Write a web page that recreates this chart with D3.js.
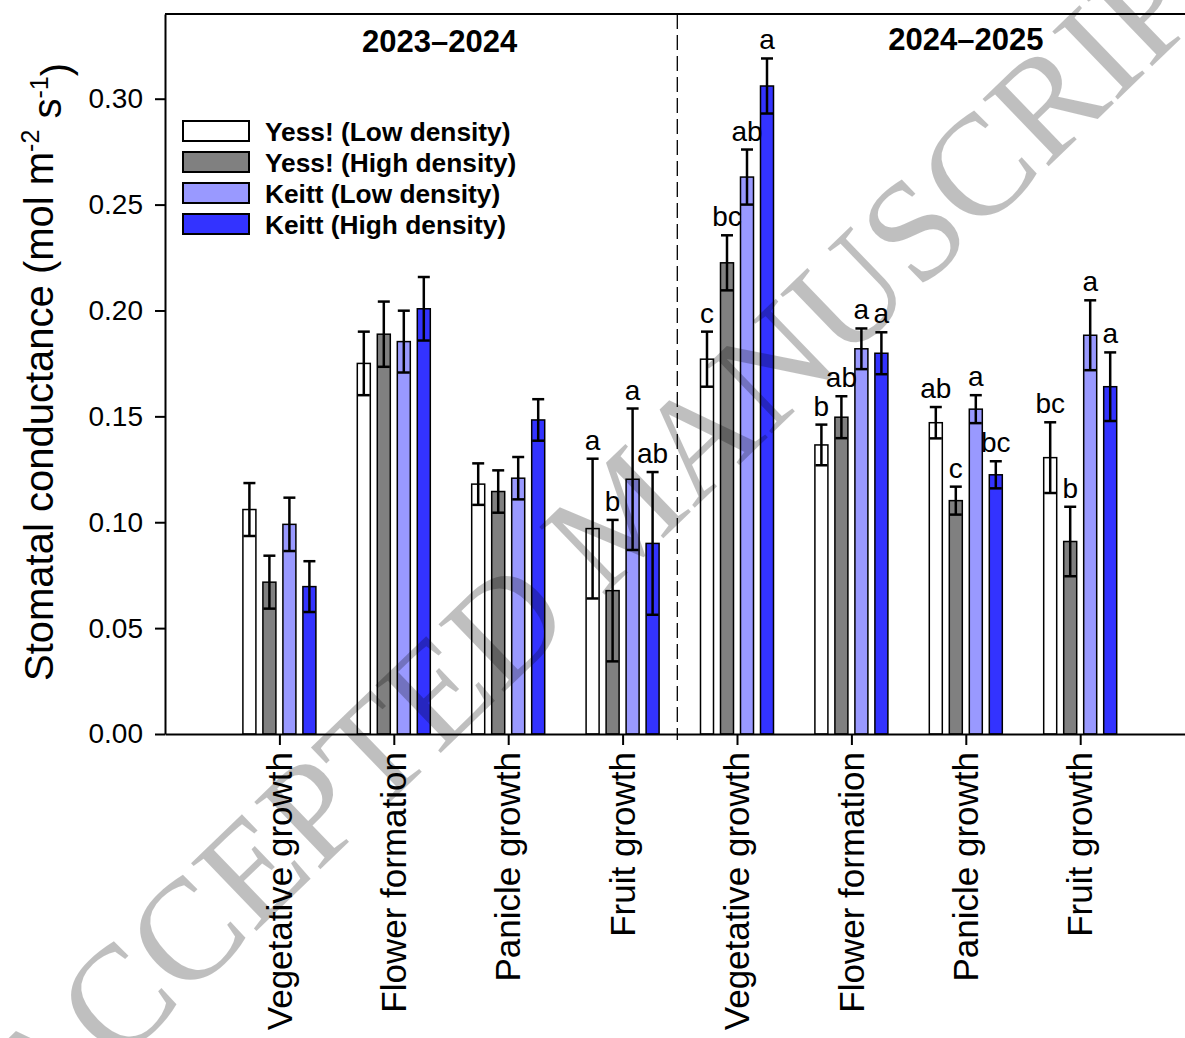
<!DOCTYPE html>
<html lang="en">
<head>
<meta charset="UTF-8">
<title>Stomatal conductance</title>
<script src="https://d3js.org/d3.v7.min.js"></script>
<style>
  body { margin: 0; background: #fff; }
  text { font-family: Arial, "Liberation Sans", sans-serif; fill: #000; }
  .tick text { font-size: 28px; }
  .xaxis .tick text { font-size: 35px; }
  .season { font-size: 31px; font-weight: 700; }
  .legend text { font-size: 26.3px; font-weight: 700; }
  .sig { font-size: 28px; }
</style>
</head>
<body>
<script>
// categories (two seasons x four stages)
const stages = ["Vegetative growth", "Flower formation", "Panicle growth", "Fruit growth",
                "Vegetative growth", "Flower formation", "Panicle growth", "Fruit growth"];
const seasons = ["2023\u20132024", "2024\u20132025"];
const seriesNames = ["Yess! (Low density)", "Yess! (High density)", "Keitt (Low density)", "Keitt (High density)"];
const seriesColors = ["#ffffff", "#808080", "#9999ff", "#3333ff"];

// means and standard errors
const yessLow     = [0.106, 0.175, 0.118, 0.097, 0.177, 0.1365, 0.147, 0.1305];
const yessLowErr  = [0.0125, 0.015, 0.0098, 0.033, 0.013, 0.0096, 0.0074, 0.0167];
const yessHigh    = [0.0717, 0.1888, 0.1145, 0.0677, 0.2225, 0.1496, 0.1102, 0.0909];
const yessHighErr = [0.0125, 0.0154, 0.010, 0.0334, 0.013, 0.0099, 0.0066, 0.0164];
const keittLow    = [0.099, 0.1853, 0.1208, 0.1203, 0.263, 0.1819, 0.1534, 0.1883];
const keittLowErr = [0.0126, 0.0146, 0.010, 0.0334, 0.013, 0.0096, 0.0066, 0.0165];
const keittHigh   = [0.0696, 0.2008, 0.1483, 0.090, 0.306, 0.1798, 0.1224, 0.164];
const keittHighErr= [0.012, 0.015, 0.0098, 0.0337, 0.013, 0.0099, 0.0064, 0.0162];

// significance letters (empty = none)
const yessLowSig   = ["", "", "", "a", "c", "b", "ab", "bc"];
const yessHighSig  = ["", "", "", "b", "bc", "ab", "c", "b"];
const keittLowSig  = ["", "", "", "a", "ab", "a", "a", "a"];
const keittHighSig = ["", "", "", "ab", "a", "a", "bc", "a"];

const yTicks = [0, 0.05, 0.10, 0.15, 0.20, 0.25, 0.30];

const means = [yessLow, yessHigh, keittLow, keittHigh];
const errs = [yessLowErr, yessHighErr, keittLowErr, keittHighErr];
const sigs = [yessLowSig, yessHighSig, keittLowSig, keittHighSig];

const width = 1185, height = 1038;
const plotLeft = 165, plotTop = 14, plotBottom = 734, step = 114.4;

const svg = d3.select("body").append("svg")
    .attr("width", width).attr("height", height);

const x = d3.scalePoint()
    .domain(d3.range(stages.length))
    .range([plotLeft, plotLeft + (stages.length + 1) * step])
    .padding(1);

const x1 = d3.scaleBand()
    .domain(d3.range(seriesNames.length))
    .range([-40, 40])
    .paddingInner(0.35)
    .paddingOuter(0.175);

const y = d3.scaleLinear().domain([0, 0.34]).range([plotBottom, plotTop]);

// flatten bars
const bars = [];
stages.forEach((s, i) => {
    seriesNames.forEach((n, k) => {
        bars.push({ i: i, k: k, v: means[k][i], e: errs[k][i], sig: sigs[k][i] });
    });
});

// frame lines (top + right, right one falls just outside the picture)
svg.append("line")
    .attr("x1", plotLeft).attr("x2", x.range()[1])
    .attr("y1", plotTop).attr("y2", plotTop)
    .attr("stroke", "#000").attr("stroke-width", 2);
svg.append("line")
    .attr("x1", x.range()[1]).attr("x2", x.range()[1])
    .attr("y1", plotTop).attr("y2", plotBottom)
    .attr("stroke", "#000").attr("stroke-width", 2);

// season separator
const sepX = (x(3) + x(4)) / 2 - 2.5;
svg.append("line")
    .attr("x1", sepX).attr("x2", sepX)
    .attr("y1", plotTop).attr("y2", plotBottom)
    .attr("stroke", "#000").attr("stroke-width", 1.3)
    .attr("stroke-dasharray", "15,6");

// bars
svg.append("g").selectAll("rect")
    .data(bars).enter().append("rect")
    .attr("x", d => x(d.i) + x1(d.k))
    .attr("width", x1.bandwidth())
    .attr("y", d => y(d.v))
    .attr("height", d => y(0) - y(d.v))
    .attr("fill", d => seriesColors[d.k])
    .attr("stroke", "#000").attr("stroke-width", 1.5);

// error bars
const eb = svg.append("g").attr("stroke", "#000").attr("stroke-width", 2.5);
bars.forEach(d => {
    const cx = x(d.i) + x1(d.k) + x1.bandwidth() / 2;
    eb.append("line").attr("x1", cx).attr("x2", cx)
        .attr("y1", y(d.v - d.e)).attr("y2", y(d.v + d.e));
    [d.v - d.e, d.v + d.e].forEach(v => {
        eb.append("line").attr("x1", cx - 6).attr("x2", cx + 6)
            .attr("y1", y(v)).attr("y2", y(v));
    });
});

// significance letters
svg.append("g").selectAll("text")
    .data(bars.filter(d => d.sig)).enter().append("text")
    .attr("class", "sig")
    .attr("x", d => x(d.i) + x1(d.k) + x1.bandwidth() / 2)
    .attr("y", d => y(d.v + d.e) - 9)
    .attr("text-anchor", "middle")
    .text(d => d.sig);

// axes
const yAxis = d3.axisLeft(y).tickValues(yTicks).tickFormat(d3.format(".2f"))
    .tickSize(10).tickSizeOuter(0).tickPadding(12);
svg.append("g").attr("transform", "translate(" + plotLeft + ",0)").call(yAxis)
    .call(g => g.select(".domain").attr("stroke-width", 2))
    .call(g => g.selectAll(".tick line").attr("stroke-width", 2));

const xAxis = d3.axisBottom(x).tickFormat(i => stages[i]).tickSize(11).tickSizeOuter(0);
svg.append("g").attr("class", "xaxis").attr("transform", "translate(0," + plotBottom + ")").call(xAxis)
    .call(g => g.select(".domain").attr("stroke-width", 2))
    .call(g => g.selectAll(".tick line").attr("stroke-width", 2))
    .selectAll("text")
    .attr("transform", "rotate(-90)")
    .attr("text-anchor", "end")
    .attr("x", -18).attr("y", -1).attr("dy", "0.36em");

// separator tick on the bottom axis
svg.append("line")
    .attr("x1", sepX).attr("x2", sepX)
    .attr("y1", plotBottom).attr("y2", plotBottom + 6)
    .attr("stroke", "#000").attr("stroke-width", 1.3);

// season titles
svg.append("text").attr("class", "season")
    .attr("x", x(1) + 0.4 * step).attr("y", 52)
    .attr("text-anchor", "middle").text(seasons[0]);
svg.append("text").attr("class", "season")
    .attr("x", x(6)).attr("y", 50)
    .attr("text-anchor", "middle").text(seasons[1]);

// y title
const yt = svg.append("text")
    .attr("transform", "translate(53," + 372 + ") rotate(-90)")
    .attr("text-anchor", "middle")
    .style("font-size", "40px");
yt.append("tspan").text("Stomatal conductance (mol m");
yt.append("tspan").attr("dy", "-0.55em").style("font-size", "25px").text("-2");
yt.append("tspan").attr("dy", "0.55em").text(" s");
yt.append("tspan").attr("dy", "-0.55em").style("font-size", "25px").text("-1");
yt.append("tspan").attr("dy", "0.55em").text(")");

// legend
const leg = svg.append("g").attr("class", "legend");
seriesNames.forEach((n, k) => {
    const ly = 121 + k * 31;
    leg.append("rect").attr("x", 183).attr("y", ly).attr("width", 66).attr("height", 20)
        .attr("fill", seriesColors[k]).attr("stroke", "#000").attr("stroke-width", 2);
    leg.append("text").attr("x", 265).attr("y", ly + 19.5).text(n);
});

// watermark
svg.append("text")
    .attr("transform", "translate(620,510) rotate(-44)")
    .attr("text-anchor", "middle")
    .attr("dy", "0.35em")
    .style("font-family", "'Liberation Serif', 'Times New Roman', serif")
    .style("font-size", "144px")
    .style("fill", "#000")
    .style("fill-opacity", 0.25)
    .text("ACCEPTED MANUSCRIPT");
</script>
</body>
</html>
